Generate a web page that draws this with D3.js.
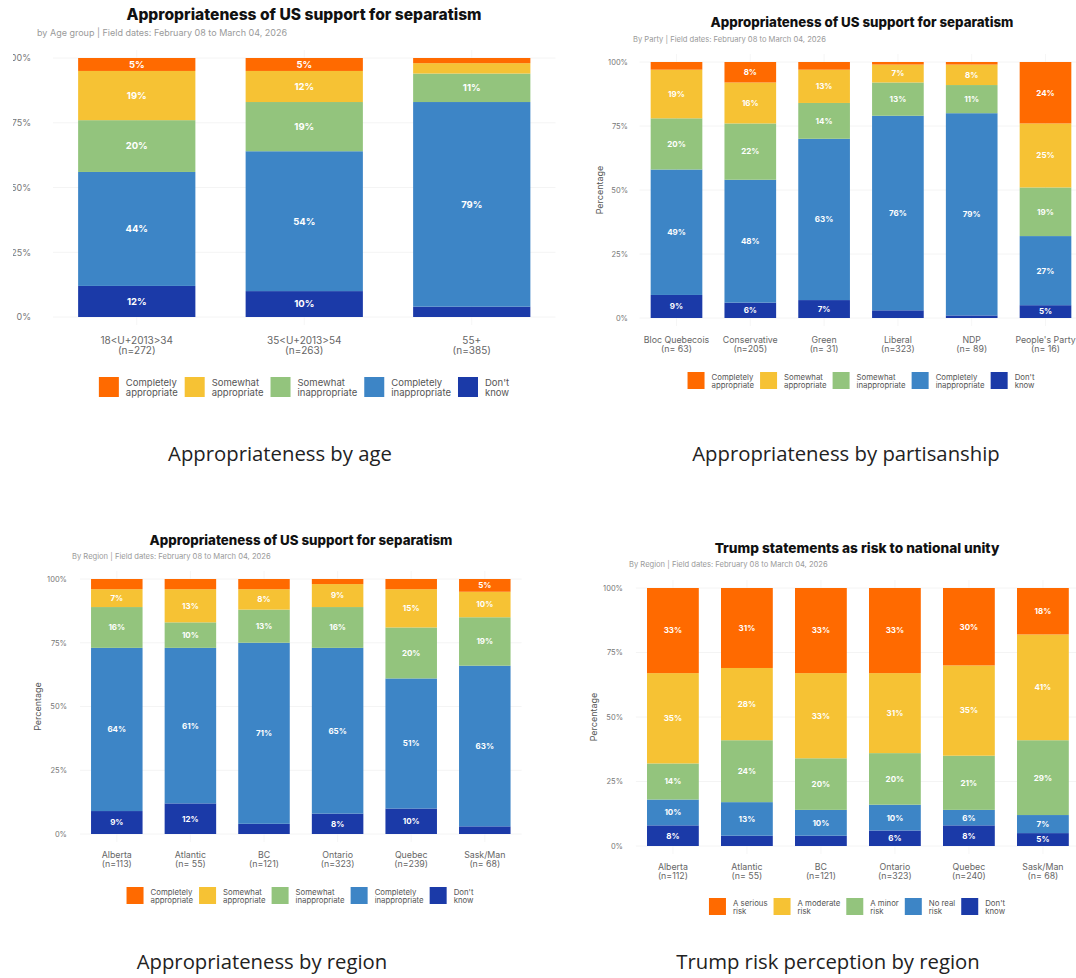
<!DOCTYPE html>
<html>
<head>
<meta charset="utf-8">
<script src="https://cdn.jsdelivr.net/npm/d3@7"></script>
<style>
  body { margin: 0; background: #fff; }
  text { font-family: Inter, "Open Sans", sans-serif; }
</style>
</head>
<body>
<svg id="fig"></svg>
<script>
// ---- data ----
var apprKeys = ["Completely appropriate", "Somewhat appropriate", "Somewhat inappropriate", "Completely inappropriate", "Don't know"];
var apprLegend = [["Completely", "appropriate"], ["Somewhat", "appropriate"], ["Somewhat", "inappropriate"], ["Completely", "inappropriate"], ["Don't", "know"]];
var riskKeys = ["A serious risk", "A moderate risk", "A minor risk", "No real risk", "Don't know"];
var riskLegend = [["A serious", "risk"], ["A moderate", "risk"], ["A minor", "risk"], ["No real", "risk"], ["Don't", "know"]];

var ageGroups = ["18<U+2013>34", "35<U+2013>54", "55+"];
var ageN = ["(n=272)", "(n=263)", "(n=385)"];
var ageValues = [
  [5, 19, 20, 44, 12],
  [5, 12, 19, 54, 10],
  [2, 4, 11, 79, 4]
];

var parties = ["Bloc Quebecois", "Conservative", "Green", "Liberal", "NDP", "People's Party"];
var partyN = ["(n= 63)", "(n=205)", "(n= 31)", "(n=323)", "(n= 89)", "(n= 16)"];
var partyValues = [
  [3, 19, 20, 49, 9],
  [8, 16, 22, 48, 6],
  [3, 13, 14, 63, 7],
  [1, 7, 13, 76, 3],
  [1, 8, 11, 79, 1],
  [24, 25, 19, 27, 5]
];

var regions = ["Alberta", "Atlantic", "BC", "Ontario", "Quebec", "Sask/Man"];
var regionN = ["(n=113)", "(n= 55)", "(n=121)", "(n=323)", "(n=239)", "(n= 68)"];
var regionValues = [
  [4, 7, 16, 64, 9],
  [4, 13, 10, 61, 12],
  [4, 8, 13, 71, 4],
  [2, 9, 16, 65, 8],
  [4, 15, 20, 51, 10],
  [5, 10, 19, 63, 3]
];

var riskN = ["(n=112)", "(n= 55)", "(n=121)", "(n=323)", "(n=240)", "(n= 68)"];
var riskValues = [
  [33, 35, 14, 10, 8],
  [31, 28, 24, 13, 4],
  [33, 33, 20, 10, 4],
  [33, 31, 20, 10, 6],
  [30, 35, 21, 6, 8],
  [18, 41, 29, 7, 5]
];

var yTicks = [0, 25, 50, 75, 100];
var subtitleDates = "Field dates: February 08 to March 04, 2026";

var colors = ["#ff6a00", "#f6c234", "#93c47d", "#3d85c6", "#1b3aa8"];

var svg = d3.select("#fig").attr("width", 1076).attr("height", 978);
svg.append("rect").attr("width", 1076).attr("height", 978).attr("fill", "#fff");

function drawPanel(o) {
  var g = svg.append("g");
  if (o.clipLeft != null) {
    var id = "clip" + Math.round(o.titleX);
    svg.append("defs").append("clipPath").attr("id", id)
      .append("rect").attr("x", o.clipLeft).attr("y", 0).attr("width", 1076).attr("height", 978);
    g.attr("clip-path", "url(#" + id + ")");
  }

  var rows = o.cats.map(function (c, i) {
    var r = { cat: c, n: o.ns[i] };
    o.keys.forEach(function (k, j) { r[k] = o.values[i][j]; });
    return r;
  });
  // stack from the bottom: last key (Don't know) sits at the base
  var stackKeys = o.keys.slice().reverse();
  var series = d3.stack().keys(stackKeys)(rows);

  var x = d3.scaleBand().domain(o.cats).range(o.xRange).paddingInner(0.3).paddingOuter(0.15);
  var y = d3.scaleLinear().domain([0, 100]).range(o.yRange);

  // grid
  g.append("g").selectAll("line").data(yTicks).join("line")
    .attr("x1", o.xRange[0]).attr("x2", o.xRange[1])
    .attr("y1", function (d) { return y(d); }).attr("y2", function (d) { return y(d); })
    .attr("stroke", "#f1f1f1").attr("stroke-width", 0.8);
  g.append("g").selectAll("line").data(o.cats).join("line")
    .attr("x1", function (d) { return x(d) + x.bandwidth() / 2; })
    .attr("x2", function (d) { return x(d) + x.bandwidth() / 2; })
    .attr("y1", o.yRange[1] - 8).attr("y2", o.yRange[0] + 8)
    .attr("stroke", "#f4f4f4").attr("stroke-width", 0.8);

  // y axis labels
  var yAxis = d3.axisLeft(y).tickValues(yTicks).tickSize(0).tickPadding(0)
    .tickFormat(function (d) { return d + "%"; });
  var ya = g.append("g").attr("transform", "translate(" + o.tickX + ",0)").call(yAxis);
  ya.select(".domain").remove();
  ya.selectAll("text").attr("fill", "#777").style("font-size", o.tickSize + "px")
    .style("font-family", "Inter, sans-serif");

  if (o.yLabelX != null) {
    g.append("text")
      .attr("transform", "translate(" + o.yLabelX + "," + (o.yRange[0] + o.yRange[1]) / 2 + ") rotate(-90)")
      .attr("text-anchor", "middle").attr("fill", "#555")
      .style("font-size", o.yLabelSize + "px").text("Percentage");
  }

  // bars
  var layers = g.append("g").selectAll("g").data(series).join("g")
    .attr("fill", function (s) { return colors[o.keys.indexOf(s.key)]; });
  layers.selectAll("rect").data(function (s) { return s; }).join("rect")
    .attr("x", function (d) { return x(d.data.cat); })
    .attr("width", x.bandwidth())
    .attr("y", function (d) { return y(d[1]); })
    .attr("height", function (d) { return y(d[0]) - y(d[1]); });

  // segment labels
  layers.selectAll("text").data(function (s) { return s; }).join("text")
    .filter(function (d) { return d[1] - d[0] >= 5; })
    .attr("x", function (d) { return x(d.data.cat) + x.bandwidth() / 2; })
    .attr("y", function (d) { return (y(d[0]) + y(d[1])) / 2; })
    .attr("dy", "0.36em")
    .attr("text-anchor", "middle").attr("fill", "#fff").attr("font-weight", 700)
    .style("font-size", o.barLabelSize + "px")
    .text(function (d) { return Math.round(d[1] - d[0]) + "%"; });

  // x labels
  var xl = g.append("g").selectAll("text").data(rows).join("text")
    .attr("text-anchor", "middle").attr("fill", "#666")
    .style("font-size", o.xlabSize + "px")
    .attr("x", function (d) { return x(d.cat) + x.bandwidth() / 2; })
    .attr("y", o.xlabY);
  xl.append("tspan").text(function (d) { return d.cat; });
  xl.append("tspan").attr("x", function (d) { return x(d.cat) + x.bandwidth() / 2; })
    .attr("dy", o.xlabLine).text(function (d) { return d.n; });

  // title / subtitle
  g.append("text").attr("x", o.titleX).attr("y", o.titleY).attr("text-anchor", "middle")
    .attr("font-weight", 800).attr("fill", "#111").style("font-size", o.titleSize + "px")
    .text(o.title);
  g.append("text").attr("x", o.subX).attr("y", o.subY).attr("fill", "#9a9a9a")
    .style("font-size", o.subSize + "px").text(o.subtitle);

  // legend
  var lg = g.append("g");
  var cursor = 0;
  o.legend.forEach(function (lab, i) {
    var it = lg.append("g").attr("transform", "translate(" + cursor + ",0)");
    it.append("rect").attr("width", o.sq).attr("height", o.sq).attr("fill", colors[i]);
    var t = it.append("text").attr("fill", "#555").style("font-size", o.legendSize + "px");
    t.append("tspan").attr("x", o.sq + o.sqGap).attr("y", o.sq / 2 - 1).text(lab[0]);
    t.append("tspan").attr("x", o.sq + o.sqGap).attr("y", o.sq / 2 + o.legendSize - 0.5).text(lab[1]);
    var w = d3.max(t.selectAll("tspan").nodes(), function (n) { return n.getComputedTextLength(); });
    cursor += o.sq + o.sqGap + w + o.itemGap;
  });
  var total = cursor - o.itemGap;
  lg.attr("transform", "translate(" + (o.legendCx - total / 2) + "," + o.legendY + ")");

  // caption
  svg.append("text").attr("x", o.capX).attr("y", o.capY).attr("text-anchor", "middle")
    .attr("fill", "#222").style("font-family", "'Open Sans', sans-serif").style("font-size", "20.3px")
    .text(o.caption);
}

drawPanel({
  cats: ageGroups, ns: ageN, values: ageValues, keys: apprKeys, legend: apprLegend,
  title: "Appropriateness of US support for separatism",
  subtitle: "by Age group | " + subtitleDates,
  xRange: [53, 555.5], yRange: [317, 58],
  titleX: 304, titleY: 20, titleSize: 15.6,
  subX: 37, subY: 36, subSize: 9,
  tickX: 31, tickSize: 9, clipLeft: 13,
  xlabY: 343.5, xlabLine: 10.5, xlabSize: 10,
  barLabelSize: 9.5,
  legendY: 377, sq: 20, sqGap: 7, itemGap: 7, legendSize: 9.5, legendCx: 304,
  caption: "Appropriateness by age", capX: 280, capY: 461
});

drawPanel({
  cats: parties, ns: partyN, values: partyValues, keys: apprKeys, legend: apprLegend,
  title: "Appropriateness of US support for separatism",
  subtitle: "By Party | " + subtitleDates,
  xRange: [639.6, 1082.4], yRange: [318, 62],
  titleX: 862, titleY: 27, titleSize: 13.3,
  subX: 633, subY: 41.5, subSize: 7.6,
  tickX: 628, tickSize: 7.5,
  yLabelX: 603, yLabelSize: 9,
  xlabY: 343, xlabLine: 9, xlabSize: 8.8,
  barLabelSize: 8,
  legendY: 372, sq: 17, sqGap: 7, itemGap: 6, legendSize: 7.8, legendCx: 861,
  caption: "Appropriateness by partisanship", capX: 846, capY: 461
});

drawPanel({
  cats: regions, ns: regionN, values: regionValues, keys: apprKeys, legend: apprLegend,
  title: "Appropriateness of US support for separatism",
  subtitle: "By Region | " + subtitleDates,
  xRange: [80, 521.6], yRange: [834, 579],
  titleX: 301, titleY: 545, titleSize: 13.3,
  subX: 72, subY: 558.5, subSize: 7.6,
  tickX: 67, tickSize: 7.5,
  yLabelX: 41, yLabelSize: 9,
  xlabY: 858, xlabLine: 9, xlabSize: 8.8,
  barLabelSize: 8,
  legendY: 887, sq: 17, sqGap: 7, itemGap: 6, legendSize: 7.8, legendCx: 300,
  caption: "Appropriateness by region", capX: 262, capY: 969
});

drawPanel({
  cats: regions, ns: riskN, values: riskValues, keys: riskKeys, legend: riskLegend,
  title: "Trump statements as risk to national unity",
  subtitle: "By Region | " + subtitleDates,
  xRange: [635.9, 1079.9], yRange: [846, 588],
  titleX: 857, titleY: 553, titleSize: 13.7,
  subX: 629, subY: 566.5, subSize: 7.6,
  tickX: 623, tickSize: 7.5,
  yLabelX: 597, yLabelSize: 9,
  xlabY: 870, xlabLine: 9, xlabSize: 8.8,
  barLabelSize: 8,
  legendY: 898, sq: 17, sqGap: 7, itemGap: 6, legendSize: 7.8, legendCx: 857,
  caption: "Trump risk perception by region", capX: 828, capY: 969
});
</script>
</body>
</html>
